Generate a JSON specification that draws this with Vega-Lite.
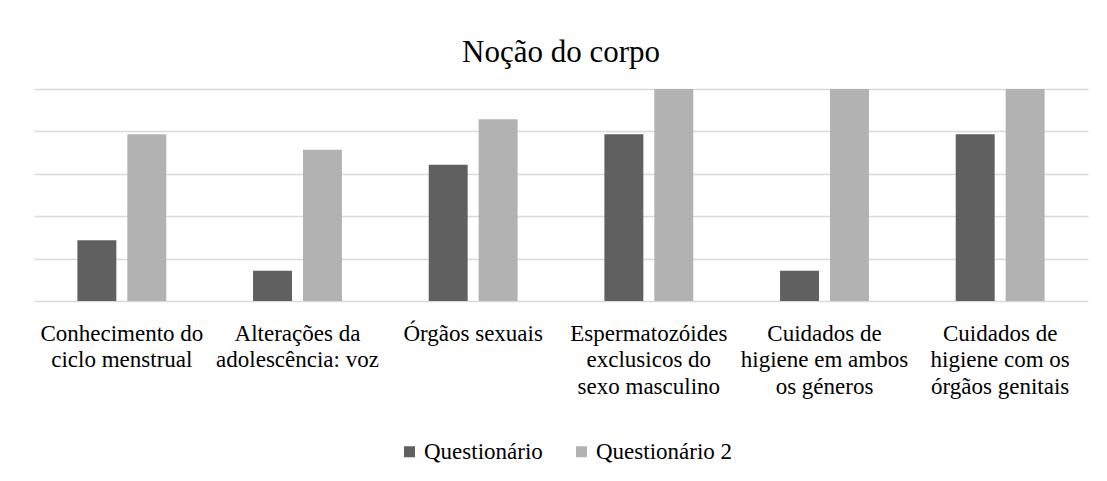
{
  "$schema": "https://vega.github.io/schema/vega-lite/v6.json",
  "width": 1054,
  "height": 212,
  "autosize": {"type": "none"},
  "padding": {"left": 34, "top": 89, "right": 19, "bottom": 180},
  "background": "white",
  "title": {
    "text": "Noção do corpo",
    "font": "Liberation Serif",
    "fontSize": 31,
    "fontWeight": "normal",
    "color": "#000000",
    "baseline": "alphabetic",
    "offset": -4,
    "anchor": "middle"
  },
  "data": {
    "values": [
      {"categoria": "Conhecimento do ciclo menstrual", "questionario": "Questionário", "valor": 28.6},
      {"categoria": "Conhecimento do ciclo menstrual", "questionario": "Questionário 2", "valor": 78.6},
      {"categoria": "Alterações da adolescência: voz", "questionario": "Questionário", "valor": 14.3},
      {"categoria": "Alterações da adolescência: voz", "questionario": "Questionário 2", "valor": 71.4},
      {"categoria": "Órgãos sexuais", "questionario": "Questionário", "valor": 64.3},
      {"categoria": "Órgãos sexuais", "questionario": "Questionário 2", "valor": 85.7},
      {"categoria": "Espermatozóides exclusicos do sexo masculino", "questionario": "Questionário", "valor": 78.6},
      {"categoria": "Espermatozóides exclusicos do sexo masculino", "questionario": "Questionário 2", "valor": 100},
      {"categoria": "Cuidados de higiene em ambos os géneros", "questionario": "Questionário", "valor": 14.3},
      {"categoria": "Cuidados de higiene em ambos os géneros", "questionario": "Questionário 2", "valor": 100},
      {"categoria": "Cuidados de higiene com os órgãos genitais", "questionario": "Questionário", "valor": 78.6},
      {"categoria": "Cuidados de higiene com os órgãos genitais", "questionario": "Questionário 2", "valor": 100}
    ]
  },
  "mark": {"type": "bar"},
  "encoding": {
    "x": {
      "field": "categoria",
      "type": "nominal",
      "sort": null,
      "scale": {"paddingInner": 0.494, "paddingOuter": 0.247},
      "axis": {
        "title": null,
        "labelAngle": 0,
        "labelFont": "Liberation Serif",
        "labelFontSize": 23,
        "labelColor": "#000000",
        "labelLineHeight": 26.5,
        "labelPadding": 21,
        "labelLimit": 0,
        "ticks": false,
        "domainColor": "#d9d9d9",
        "domainWidth": 1.5,
        "labelExpr": "datum.label == 'Conhecimento do ciclo menstrual' ? ['Conhecimento do', 'ciclo menstrual'] : datum.label == 'Alterações da adolescência: voz' ? ['Alterações da', 'adolescência: voz'] : datum.label == 'Espermatozóides exclusicos do sexo masculino' ? ['Espermatozóides', 'exclusicos do', 'sexo masculino'] : datum.label == 'Cuidados de higiene em ambos os géneros' ? ['Cuidados de', 'higiene em ambos', 'os géneros'] : datum.label == 'Cuidados de higiene com os órgãos genitais' ? ['Cuidados de', 'higiene com os', 'órgãos genitais'] : datum.label"
      }
    },
    "xOffset": {
      "field": "questionario",
      "type": "nominal",
      "scale": {"paddingInner": 0.22, "paddingOuter": 0}
    },
    "y": {
      "field": "valor",
      "type": "quantitative",
      "scale": {"domain": [0, 100], "nice": false},
      "axis": {
        "title": null,
        "labels": false,
        "ticks": false,
        "domain": false,
        "values": [20, 40, 60, 80, 100],
        "gridColor": "#d9d9d9",
        "gridWidth": 1.5
      }
    },
    "color": {
      "field": "questionario",
      "type": "nominal",
      "scale": {"domain": ["Questionário", "Questionário 2"], "range": ["#606060", "#b2b2b2"]},
      "legend": {
        "title": null,
        "orient": "none",
        "legendX": 364,
        "legendY": 351,
        "direction": "horizontal",
        "symbolType": "square",
        "symbolSize": 121,
        "symbolStrokeWidth": 0,
        "labelFont": "Liberation Serif",
        "labelFontSize": 23,
        "labelColor": "#000000",
        "labelOffset": 3,
        "columnPadding": 27
      }
    }
  },
  "config": {
    "view": {"stroke": null}
  }
}
